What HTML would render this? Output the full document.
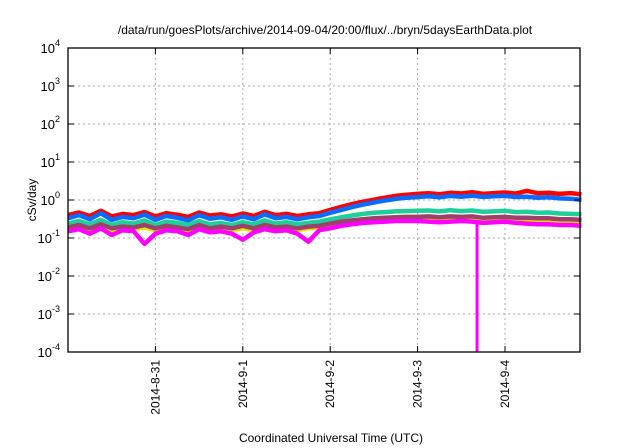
<!DOCTYPE html>
<html><head><meta charset="utf-8"><style>
body{margin:0;background:#fff}
svg{display:block;font-family:"Liberation Sans",sans-serif}
</style></head><body>
<svg id="chart" width="640" height="448" viewBox="0 0 640 448">
<text x="325" y="34" font-size="12" text-anchor="middle">/data/run/goesPlots/archive/2014-09-04/20:00/flux/../bryn/5daysEarthData.plot</text>
<text transform="translate(36,200) rotate(-90)" font-size="12" text-anchor="middle">cSv/day</text>
<text x="331" y="442" font-size="12" text-anchor="middle">Coordinated Universal Time (UTC)</text>
<g id="grid"></g><g id="series"></g><g id="axes"></g>
</svg>
<script>
const tickDays=[1,2,3,4,5];
const tickLabels=["2014-8-31","2014-9-1","2014-9-2","2014-9-3","2014-9-4"];
const yExps=[-4,-3,-2,-1,0,1,2,3,4];
const red=[0.40,0.47,0.38,0.52,0.37,0.43,0.40,0.48,0.37,0.45,0.41,0.36,0.47,0.39,0.42,0.37,0.44,0.38,0.49,0.40,0.43,0.38,0.42,0.45,0.55,0.66,0.78,0.90,1.02,1.15,1.28,1.38,1.45,1.50,1.42,1.55,1.48,1.60,1.45,1.52,1.58,1.47,1.75,1.50,1.55,1.45,1.52,1.40];
const blue=[0.33,0.40,0.31,0.45,0.30,0.36,0.33,0.41,0.30,0.38,0.34,0.29,0.40,0.32,0.35,0.30,0.37,0.31,0.42,0.33,0.36,0.31,0.35,0.38,0.46,0.55,0.65,0.76,0.86,0.97,1.07,1.15,1.20,1.25,1.18,1.28,1.22,1.30,1.20,1.25,1.28,1.20,1.22,1.15,1.18,1.10,1.08,1.02];
const teal=[0.24,0.28,0.23,0.30,0.22,0.26,0.24,0.29,0.22,0.27,0.25,0.22,0.28,0.23,0.25,0.22,0.26,0.23,0.29,0.24,0.26,0.23,0.25,0.27,0.31,0.35,0.39,0.43,0.46,0.48,0.50,0.51,0.52,0.53,0.50,0.54,0.51,0.53,0.49,0.50,0.52,0.48,0.49,0.46,0.47,0.44,0.43,0.42];
const yellow=[0.17,0.19,0.16,0.20,0.16,0.18,0.17,0.19,0.16,0.18,0.17,0.15,0.19,0.16,0.18,0.16,0.18,0.16,0.19,0.17,0.18,0.16,0.18,0.19,0.21,0.24,0.26,0.28,0.29,0.30,0.31,0.32,0.32,0.33,0.31,0.33,0.32,0.33,0.30,0.31,0.32,0.30,0.30,0.29,0.29,0.28,0.27,0.27];
const maroon=[0.19,0.22,0.18,0.23,0.18,0.20,0.19,0.22,0.18,0.21,0.19,0.17,0.22,0.18,0.20,0.18,0.21,0.18,0.22,0.19,0.20,0.18,0.20,0.21,0.24,0.27,0.29,0.31,0.33,0.34,0.35,0.36,0.36,0.37,0.35,0.37,0.36,0.37,0.34,0.35,0.36,0.34,0.34,0.33,0.33,0.31,0.31,0.30];
const magenta=[0.15,0.17,0.13,0.18,0.12,0.16,0.15,0.07,0.13,0.16,0.15,0.12,0.17,0.14,0.15,0.13,0.09,0.14,0.17,0.15,0.16,0.13,0.08,0.16,0.18,0.21,0.23,0.25,0.26,0.27,0.28,0.28,0.28,0.27,0.26,0.27,0.28,0.27,0.25,0.26,0.27,0.25,0.24,0.23,0.23,0.22,0.22,0.21];
const dropDays=[4.68];
const dropValues=[0.0001];
const startDay=0, stepDay=0.125;
const L=68,R=580,T=48,B=352,dayW=87.4;
const NS="http://www.w3.org/2000/svg";
const x=d=>L+(d)*dayW;
const y=v=>B-(Math.log10(v)+4)*(B-T)/8;
function mk(tag,attrs,parent){const e=document.createElementNS(NS,tag);for(const k in attrs)e.setAttribute(k,attrs[k]);parent.appendChild(e);return e;}
const grid=document.getElementById('grid'),axes=document.getElementById('axes'),ser=document.getElementById('series');
yExps.forEach(p=>{const yy=y(Math.pow(10,p));
 if(p>-4&&p<4){const g=mk('line',{x1:L,x2:R,y1:yy,y2:yy,stroke:'#aaa','stroke-dasharray':'2,3','stroke-width':1},grid);
 
 }
 const t1=mk('line',{x1:L,x2:L+6,y1:yy,y2:yy,stroke:'#000'},axes);
 
 
 const t2=mk('line',{x1:R-6,x2:R,y1:yy,y2:yy,stroke:'#000'},axes);
 
 
 const tx=mk('text',{x:L-8,y:yy+5,'font-size':13,'text-anchor':'end'},axes);
 
 
 tx.textContent='10';const s=mk('tspan',{dy:-7,'font-size':9},tx);s.textContent=String(p);
});
tickDays.forEach((d,i)=>{const xx=x(d);
 const g=mk('line',{x1:xx,x2:xx,y1:T,y2:B,stroke:'#aaa','stroke-dasharray':'2,3','stroke-width':1},grid);
 
 
 const t1=mk('line',{x1:xx,x2:xx,y1:B-6,y2:B,stroke:'#000'},axes);
 
 
 const t2=mk('line',{x1:xx,x2:xx,y1:T,y2:T+6,stroke:'#000'},axes);
 
 
 const tx=mk('text',{transform:`translate(${xx+4},${B+8}) rotate(-90)`,'font-size':12,'text-anchor':'end'},axes);
 
 
 tx.textContent=tickLabels[i];
});
const fr=mk('rect',{x:L,y:T,width:R-L,height:B-T,fill:'none',stroke:'#000','stroke-width':1.3},axes);


const list=[[red,'#ff0000','series-red'],[blue,'#0a6cff','series-blue'],[teal,'#1fcf9a','series-teal'],[yellow,'#e8e000','series-yellow'],[maroon,'#a0406a','series-maroon'],[magenta,'#ff00ff','series-magenta']];
list.forEach(([arr,c,n])=>{
 const pts=arr.map((v,i)=>x(startDay+i*stepDay).toFixed(1)+','+y(v).toFixed(1)).join(' ');
 const pl=mk('polyline',{points:pts,fill:'none',stroke:c,'stroke-width':4.5,'stroke-linejoin':'round'},ser);
 
 
});
dropDays.forEach((d,i)=>{
 const idx=Math.round((d-startDay)/stepDay);
 const ln=mk('line',{x1:x(d),x2:x(d),y1:y(magenta[Math.min(idx,magenta.length-1)]),y2:y(dropValues[i]),stroke:'#ff00ff','stroke-width':3},ser);
 
 
});
</script>
</body></html>
